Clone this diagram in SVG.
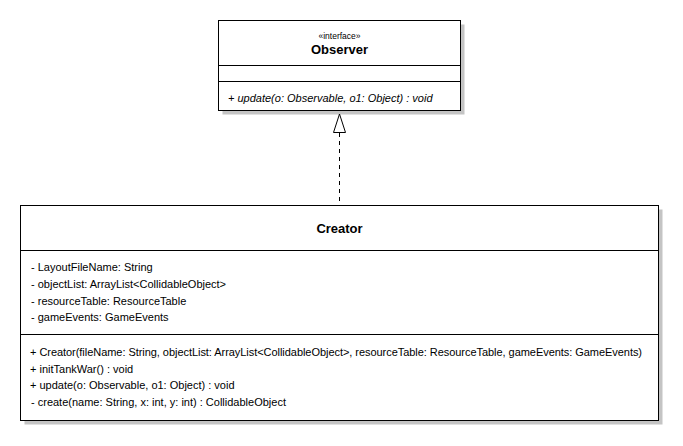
<svg xmlns="http://www.w3.org/2000/svg" width="683" height="446" viewBox="0 0 683 446">
  <style>
    .box { fill: #ffffff; stroke: #000000; stroke-width: 1; }
    .shadow { fill: #c4c4c4; }
    .sep { stroke: #000000; stroke-width: 1; }
    .txt { font-family: "Liberation Sans", Arial, sans-serif; font-size: 11px; fill: #000000; }
    .ital { font-style: italic; }
    .title { font-family: "Liberation Sans", Arial, sans-serif; font-size: 13px; font-weight: bold; fill: #000000; text-anchor: middle; }
    .stereo { font-family: "Liberation Sans", Arial, sans-serif; font-size: 8.5px; fill: #000000; text-anchor: middle; }
    .dep { stroke: #000000; stroke-width: 1; stroke-dasharray: 4 4; fill: none; }
    .head { fill: #ffffff; stroke: #000000; stroke-width: 1; }
  </style>
  <rect width="683" height="446" fill="#ffffff"/>

  <!-- Observer interface -->
  <g id="observer">
    <rect class="shadow" x="222.5" y="24.5" width="242" height="90"/>
    <rect class="box" x="218.5" y="20.5" width="242" height="90"/>
    <line class="sep" x1="218.5" y1="65.5" x2="460.5" y2="65.5"/>
    <line class="sep" x1="218.5" y1="81.5" x2="460.5" y2="81.5"/>
    <text class="stereo" x="339.5" y="38.5">«interface»</text>
    <text class="title" x="339.5" y="54">Observer</text>
    <text class="txt ital" x="228" y="102">+ update(o: Observable, o1: Object) : void</text>
  </g>

  <!-- Creator class -->
  <g id="creator">
    <rect class="shadow" x="24.5" y="209.5" width="638" height="215"/>
    <rect class="box" x="20.5" y="205.5" width="638" height="215"/>
    <line class="sep" x1="20.5" y1="250.5" x2="658.5" y2="250.5"/>
    <line class="sep" x1="20.5" y1="334.5" x2="658.5" y2="334.5"/>
    <text class="title" x="339.5" y="233">Creator</text>
    <text class="txt" x="31" y="271">- LayoutFileName: String</text>
    <text class="txt" x="31" y="288">- objectList: ArrayList&lt;CollidableObject&gt;</text>
    <text class="txt" x="31" y="304.5">- resourceTable: ResourceTable</text>
    <text class="txt" x="31" y="321">- gameEvents: GameEvents</text>
    <text class="txt" x="30" y="356" textLength="612" lengthAdjust="spacing">+ Creator(fileName: String, objectList: ArrayList&lt;CollidableObject&gt;, resourceTable: ResourceTable, gameEvents: GameEvents)</text>
    <text class="txt" x="30" y="372.5">+ initTankWar() : void</text>
    <text class="txt" x="30" y="389">+ update(o: Observable, o1: Object) : void</text>
    <text class="txt" x="31" y="405.5">- create(name: String, x: int, y: int) : CollidableObject</text>
  </g>

  <!-- realization: Creator implements Observer -->
  <g id="connectors">
    <line class="dep" x1="339.5" y1="133" x2="339.5" y2="205"/>
    <polygon class="head" points="339.5,114 333.5,132.5 345.5,132.5"/>
  </g>
</svg>
